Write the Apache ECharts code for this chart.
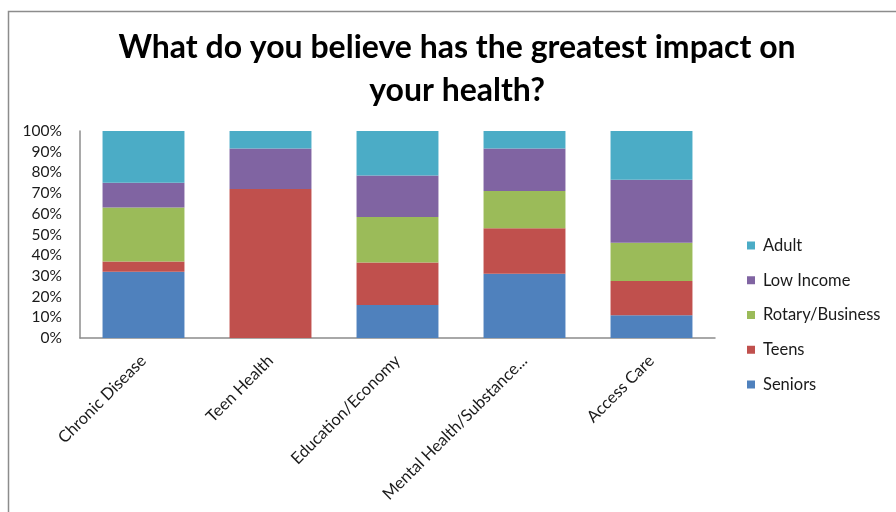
<!DOCTYPE html>
<html>
<head>
<meta charset="utf-8">
<script src="https://cdn.jsdelivr.net/npm/echarts@6/dist/echarts.min.js"></script>
<style>html,body{margin:0;padding:0;background:#fff}#c{width:896px;height:512px}</style>
</head>
<body>
<div id="c"></div>
<script>
const categories = ['Chronic Disease', 'Teen Health', 'Education/Economy', 'Mental Health/Substance...', 'Access Care'];
const seniors = [32, 0, 16, 31, 11];
const teens = [5, 72, 20.5, 22, 16.5];
const rotary = [26, 0, 22, 18, 18.5];
const lowIncome = [12, 19.5, 20, 20.5, 30.5];
const adult = [25, 8.5, 21.5, 8.5, 23.5];
const yTicks = [0, 10, 20, 30, 40, 50, 60, 70, 80, 90, 100];

const seriesDefs = [
  {name: 'Seniors', data: seniors, color: '#4F81BD'},
  {name: 'Teens', data: teens, color: '#C0504D'},
  {name: 'Rotary/Business', data: rotary, color: '#9BBB59'},
  {name: 'Low Income', data: lowIncome, color: '#8064A2'},
  {name: 'Adult', data: adult, color: '#4BACC6'}
];

const chart = echarts.init(document.getElementById('c'), null, {renderer: 'canvas'});
const font = 'Lato, "Open Sans", sans-serif';
chart.setOption({
  animation: false,
  backgroundColor: '#fff',
  textStyle: {fontFamily: font},
  graphic: [{
    type: 'rect', shape: {x: 8.5, y: 11.5, width: 1000, height: 1000},
    style: {fill: 'none', stroke: '#8c8c8c', lineWidth: 1.5}, silent: true, z: -1
  }],
  title: {
    text: 'What do you believe has the greatest impact on\nyour health?',
    left: 452, top: 21, textAlign: 'center',
    textStyle: {fontFamily: font, fontWeight: 'bold', fontSize: 32, lineHeight: 43, color: '#000'}
  },
  legend: {
    orient: 'vertical', left: 742, top: 232,
    data: ['Adult', 'Low Income', 'Rotary/Business', 'Teens', 'Seniors'],
    icon: 'rect', itemWidth: 8, itemHeight: 8, itemGap: 17.75,
    textStyle: {fontFamily: font, fontSize: 16.5, lineHeight: 16, color: '#1a1a1a', padding: [0, 0, 0, 3]}
  },
  grid: {left: 80, right: 181, top: 131, bottom: 174, containLabel: false},
  xAxis: {
    type: 'category', data: categories,
    axisLine: {lineStyle: {color: '#8c8c8c', width: 1.5}},
    axisTick: {show: false},
    axisLabel: {rotate: 45, interval: 0, margin: 20, fontFamily: font, fontSize: 16.5, color: '#1a1a1a'}
  },
  yAxis: {
    type: 'value', min: 0, max: 100, interval: 10,
    axisLine: {show: true, lineStyle: {color: '#8c8c8c', width: 1.5}},
    axisTick: {show: false},
    splitLine: {show: false},
    axisLabel: {margin: 18, fontFamily: font, fontSize: 15.5, color: '#1a1a1a',
      formatter: v => yTicks.includes(v) ? v + '%' : ''}
  },
  series: seriesDefs.map(s => ({
    name: s.name, type: 'bar', stack: 'total', data: s.data,
    barWidth: '64.5%',
    itemStyle: {color: s.color}
  }))
});
</script>
</body>
</html>
